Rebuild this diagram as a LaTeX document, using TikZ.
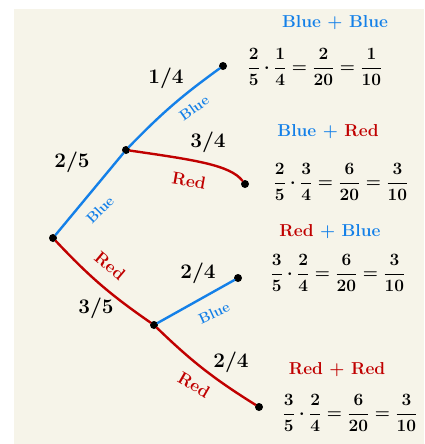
\documentclass[tikz,border=0pt]{standalone}
\usepackage{amsmath}

\begin{document}
\begin{tikzpicture}[x=1pt, y=-1pt,
    dot/.style={circle, fill=black, inner sep=0pt, minimum size=8pt},
    blueBranch/.style={draw=blueColour, line width=2.4pt, line cap=round},
    redBranch/.style={draw=redColour, line width=2.4pt, line cap=round},
    prob/.style={font=\huge\boldmath, inner sep=1pt},
    blueWord/.style={text=blueColour, font=\Large\bfseries, inner sep=1pt},
    redWord/.style={text=redColour, font=\LARGE\bfseries, inner sep=1pt},
    head/.style={font=\LARGE\bfseries},
    result/.style={font=\LARGE\boldmath}]
    \definecolor{bgColour}{HTML}{F6F4E9}
    \definecolor{blueColour}{HTML}{1480E8}
    \definecolor{redColour}{HTML}{C00000}

    % Page and paper
    \useasboundingbox (0,0) rectangle (424,444);
    \fill[bgColour] (14,9) rectangle (424,444);

    % Define the points of the tree
    \node[dot] (root) at (53,238) {};
    \node[dot] (B) at (126,150) {};
    \node[dot] (R) at (154,325) {};
    \node[dot] (BB) at (223,66) {};
    \node[dot] (BR) at (245,184) {};
    \node[dot] (RB) at (238,278) {};
    \node[dot] (RR) at (259,407) {};

    % Draw first draw
    \draw[blueBranch] (root) -- (B);
    \draw[redBranch] (root) to[bend right=6] (R);

    % Draw second draw
    \draw[blueBranch] (B) to[bend left=5] (BB);
    \draw[redBranch] (B) .. controls (195,160) and (230,165) .. (BR);
    \draw[blueBranch] (R) -- (RB);
    \draw[redBranch] (R) to[bend right=6] (RR);

    % Label branches
    \node[prob] (pB) at (72,162) {$2/5$};
    \node[prob] (pR) at (96,308) {$3/5$};
    \node[prob] (pBB) at (166,78) {$1/4$};
    \node[prob] (pBR) at (208,142) {$3/4$};
    \node[prob] (pRB) at (198,273) {$2/4$};
    \node[prob] (pRR) at (231,362) {$2/4$};

    \node[blueWord, rotate=45] (wB) at (100,210) {Blue};
    \node[blueWord, rotate=35] (wBB) at (194,108) {Blue};
    \node[redWord, rotate=-10] (wBR) at (189,181) {Red};
    \node[redWord, rotate=-40] (wR) at (110,266) {Red};
    \node[blueWord, rotate=25] (wRB) at (214,313) {Blue};
    \node[redWord, rotate=-30] (wRR) at (194,385) {Red};

    % Outcomes
    \node[head, text=blueColour] (hBB) at (335,23) {Blue + Blue};
    \node[head] (hBR) at (328,132) {\textcolor{blueColour}{Blue +} \textcolor{redColour}{Red}};
    \node[head] (hRB) at (330,232) {\textcolor{redColour}{Red} \textcolor{blueColour}{+ Blue}};
    \node[head, text=redColour] (hRR) at (337,370) {Red + Red};

    \node[result] (eBB) at (315,67) {$\dfrac{2}{5}\cdot\dfrac{1}{4}=\dfrac{2}{20}=\dfrac{1}{10}$};
    \node[result] (eBR) at (341,182) {$\dfrac{2}{5}\cdot\dfrac{3}{4}=\dfrac{6}{20}=\dfrac{3}{10}$};
    \node[result] (eRB) at (338,273) {$\dfrac{3}{5}\cdot\dfrac{2}{4}=\dfrac{6}{20}=\dfrac{3}{10}$};
    \node[result] (eRR) at (350,413) {$\dfrac{3}{5}\cdot\dfrac{2}{4}=\dfrac{6}{20}=\dfrac{3}{10}$};

\end{tikzpicture}
\end{document}
